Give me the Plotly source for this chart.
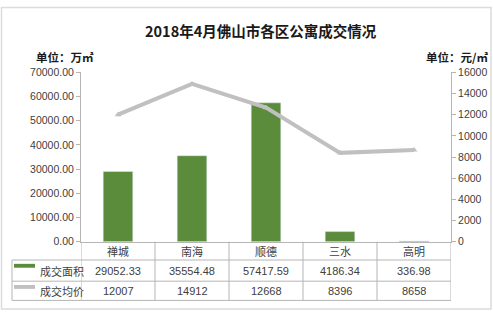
import plotly.graph_objects as go

categories = ["禅城", "南海", "顺德", "三水", "高明"]
area = [29052.33, 35554.48, 57417.59, 4186.34, 336.98]
price = [12007, 14912, 12668, 8396, 8658]
area_labels = ["29052.33", "35554.48", "57417.59", "4186.34", "336.98"]
price_labels = ["12007", "14912", "12668", "8396", "8658"]
series_names = ["成交面积", "成交均价"]
title_text = "2018年4月佛山市各区公寓成交情况"
left_unit = "单位：万㎡"
right_unit = "单位：元/㎡"

W, H = 493, 317
def px(x):
    return x / W
def py(y):
    return (H - y) / H

GREEN = "#5b8c3b"
GRAY_LINE = "#c0c0c0"
AXIS = "#b5b5b5"
TXT = "#404040"
FONT = "Liberation Sans, Arial, Noto Sans CJK SC, sans-serif"
CJK = "Noto Sans CJK SC, sans-serif"

idx = list(range(len(categories)))

fig = go.Figure()
fig.add_trace(go.Bar(x=idx, y=area, name=series_names[0], marker_color=GREEN,
                     width=0.4, yaxis="y"))
fig.add_trace(go.Scatter(x=idx, y=price, name=series_names[1], mode="lines+markers",
                         line=dict(color=GRAY_LINE, width=4),
                         marker=dict(symbol="triangle-up", size=6, color=GRAY_LINE),
                         yaxis="y2"))

x0, x1 = px(81), px(451)
fig.update_layout(
    width=W, height=H, margin=dict(l=0, r=0, t=0, b=0),
    paper_bgcolor="white", plot_bgcolor="white", showlegend=False,
    font=dict(family=FONT, color=TXT, size=11),
    xaxis=dict(domain=[x0, x1], range=[-0.5, len(categories) - 0.5],
               showticklabels=False, ticks="", showgrid=False, zeroline=False,
               showline=True, linecolor=AXIS, linewidth=1, fixedrange=True),
    yaxis=dict(domain=[py(245), py(69)], range=[0, 70000], dtick=10000,
               tickformat=".2f", ticks="outside", ticklen=4, tickcolor=AXIS,
               showline=True, linecolor=AXIS, showgrid=False, zeroline=False,
               tickfont=dict(size=10.5, color=TXT)),
    yaxis2=dict(overlaying="y", side="right", range=[0, 16000], dtick=2000,
                tickformat="d",
                ticks="outside", ticklen=4, tickcolor=AXIS, showline=True,
                linecolor=AXIS, showgrid=False, zeroline=False, anchor="x",
                tickfont=dict(size=10.5, color=TXT)),
    bargap=0.6,
)

def A(text, x, y, xref="paper", size=11, color=TXT, family=FONT, xanchor="center"):
    return dict(text=text, x=x, y=y, xref=xref, yref="paper", showarrow=False,
                xanchor=xanchor, yanchor="middle",
                font=dict(size=size, color=color, family=family))

ann = []
ann.append(A("<b>" + title_text + "</b>", 0.53, py(25), size=14.5, color="#1a1a1a", family=CJK))
ann.append(A("<b>" + left_unit + "</b>", px(65), py(53), size=11.5, color="#1a1a1a", family=CJK))
ann.append(A("<b>" + right_unit + "</b>", px(457), py(53), size=11.5, color="#1a1a1a", family=CJK))
for i, c in enumerate(categories):
    ann.append(A(c, i, py(255), xref="x", family=CJK))
    ann.append(A(area_labels[i], i, py(275), xref="x"))
    ann.append(A(price_labels[i], i, py(296), xref="x"))
for name, yy in zip(series_names, [275, 296]):
    ann.append(A(name, px(38), py(yy), family=CJK, xanchor="left"))
fig.update_layout(annotations=ann)

shapes = []
shapes.append(dict(type="rect", xref="paper", yref="paper", x0=px(1.5), x1=px(491),
                   y0=py(315), y1=py(1.5), line=dict(color="#dcdcdc", width=1.5)))
for yy in [264, 286, 306]:
    shapes.append(dict(type="line", xref="paper", yref="paper", x0=px(12), x1=px(451),
                       y0=py(yy), y1=py(yy), line=dict(color=AXIS, width=1)))
shapes.append(dict(type="line", xref="paper", yref="paper", x0=px(12), x1=px(12),
                   y0=py(264), y1=py(306), line=dict(color=AXIS, width=1)))
for k in range(len(categories) + 1):
    shapes.append(dict(type="line", xref="x", yref="paper", x0=k - 0.5, x1=k - 0.5,
                       y0=py(245), y1=py(306), line=dict(color=AXIS, width=1)))
shapes.append(dict(type="rect", xref="paper", yref="paper", x0=px(14), x1=px(35),
                   y0=py(272), y1=py(268), fillcolor=GREEN, line=dict(width=0)))
shapes.append(dict(type="rect", xref="paper", yref="paper", x0=px(14), x1=px(35),
                   y0=py(294), y1=py(290), fillcolor=GRAY_LINE, line=dict(width=0)))
fig.update_layout(shapes=shapes)

fig.write_html("out.html")
